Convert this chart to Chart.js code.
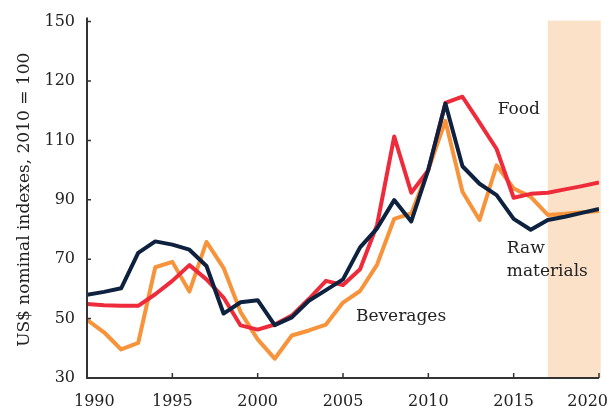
<!DOCTYPE html>
<html>
<head>
<meta charset="utf-8">
<script src="https://cdn.jsdelivr.net/npm/chart.js@4/dist/chart.umd.min.js"></script>
<style>
  html, body { margin: 0; padding: 0; background: #fff; }
  #wrap { width: 611px; height: 414px; }
</style>
</head>
<body>
<div id="wrap"><canvas id="indexes"></canvas></div>
<script>
const years = [1990, 1991, 1992, 1993, 1994, 1995, 1996, 1997, 1998, 1999,
               2000, 2001, 2002, 2003, 2004, 2005, 2006, 2007, 2008, 2009,
               2010, 2011, 2012, 2013, 2014, 2015, 2016, 2017, 2018, 2019, 2020];

const food = [54.9, 54.5, 54.3, 54.3, 58.2, 62.7, 68.0, 63.2, 57.1, 47.7,
              46.3, 48.0, 51.0, 56.6, 62.7, 61.3, 66.6, 81.6, 111.3, 92.4,
              100.0, 122.6, 124.7, 116.0, 107.1, 90.7, 92.0, 92.4, 93.5, 94.6, 95.8];

const rawMaterials = [58.0, 59.0, 60.2, 72.1, 76.0, 74.9, 73.2, 67.7, 51.7, 55.5,
                      56.2, 47.8, 50.4, 56.0, 59.6, 63.2, 74.0, 80.4, 89.9, 82.7,
                      100.2, 122.4, 101.3, 95.4, 91.6, 83.6, 79.9, 83.2, 84.3, 85.6, 86.9];

const beverages = [49.6, 45.4, 39.6, 41.8, 67.3, 69.1, 59.1, 75.8, 67.1, 52.2,
                   43.0, 36.5, 44.3, 46.0, 48.0, 55.4, 59.3, 68.2, 83.6, 85.4,
                   100.2, 116.6, 92.7, 83.2, 101.6, 93.8, 91.0, 84.9, 85.3, 85.8, 86.2];

const xTicks = [1990, 1995, 2000, 2005, 2010, 2015, 2020];
const yTicks = [30, 50, 70, 90, 110, 130, 150];
const yTickLabels = ['30', '50', '70', '90', '110', '120', '150'];

// projection period, shaded
const forecastSpan = [2017, 2020.1];

// series labels written next to the lines: [text, year, value, align]
const seriesNotes = [
  ['Food', 2015.3, 120.3, 'center'],
  ['Raw', 2014.6, 73.7, 'left'],
  ['materials', 2014.6, 66.0, 'left'],
  ['Beverages', 2008.4, 50.7, 'center']
];

const FONT = '"DejaVu Serif", serif';
const INK = '#222222';
const AXIS = '#333333';

const toPoints = vals => vals.map((v, i) => ({ x: years[i], y: v }));

const forecastShade = {
  id: 'forecastShade',
  beforeDatasetsDraw(chart) {
    const { ctx, chartArea, scales } = chart;
    const x0 = scales.x.getPixelForValue(forecastSpan[0]);
    const x1 = scales.x.getPixelForValue(forecastSpan[1]);
    ctx.save();
    ctx.fillStyle = '#fce1c9';
    ctx.fillRect(x0, chartArea.top - 1, x1 - x0, chartArea.bottom - chartArea.top + 1);
    ctx.restore();
  }
};

const axesAndNotes = {
  id: 'axesAndNotes',
  afterDraw(chart) {
    const { ctx, chartArea, scales } = chart;
    const { left, right, top, bottom } = chartArea;
    ctx.save();
    ctx.strokeStyle = AXIS;
    ctx.lineWidth = 2;
    ctx.beginPath();
    ctx.moveTo(left, top - 4);
    ctx.lineTo(left, bottom);
    ctx.lineTo(right, bottom);
    ctx.stroke();

    // inward tick marks
    ctx.lineWidth = 1.5;
    ctx.beginPath();
    yTicks.forEach(v => {
      const y = scales.y.getPixelForValue(v);
      ctx.moveTo(left, y);
      ctx.lineTo(left + 4, y);
    });
    xTicks.forEach(v => {
      const x = scales.x.getPixelForValue(v);
      ctx.moveTo(x, bottom);
      ctx.lineTo(x, bottom - 5);
    });
    ctx.stroke();

    // year labels, kept inside the canvas at both ends
    ctx.fillStyle = INK;
    ctx.font = '16px ' + FONT;
    ctx.textAlign = 'center';
    ctx.textBaseline = 'middle';
    xTicks.forEach(v => {
      const w = ctx.measureText(String(v)).width;
      let x = scales.x.getPixelForValue(v);
      x = Math.max(x, 74 + w / 2);
      x = Math.min(x, chart.width - 3 - w / 2);
      ctx.fillText(String(v), x, bottom + 24);
    });

    ctx.font = '17px ' + FONT;
    seriesNotes.forEach(([text, yr, val, align]) => {
      ctx.textAlign = align;
      ctx.fillText(text, scales.x.getPixelForValue(yr), scales.y.getPixelForValue(val));
    });
    ctx.restore();
  }
};

const lineStyle = {
  pointRadius: 0,
  borderWidth: 4,
  tension: 0,
  borderJoinStyle: 'round',
  fill: false
};

new Chart(document.getElementById('indexes'), {
  type: 'line',
  data: {
    datasets: [
      Object.assign({ label: 'Raw materials', data: toPoints(rawMaterials), borderColor: '#0e2240' }, lineStyle),
      Object.assign({ label: 'Food', data: toPoints(food), borderColor: '#ee2b3b' }, lineStyle),
      Object.assign({ label: 'Beverages', data: toPoints(beverages), borderColor: '#f7933a' }, lineStyle)
    ]
  },
  options: {
    responsive: true,
    maintainAspectRatio: false,
    animation: false,
    layout: { autoPadding: false, padding: { top: 18, right: 12, left: 0, bottom: 0 } },
    plugins: { legend: { display: false }, tooltip: { enabled: false } },
    scales: {
      x: {
        type: 'linear',
        min: 1990,
        max: 2020,
        grid: { display: false, drawTicks: false },
        border: { display: false },
        ticks: { display: false },
        afterFit(scale) { scale.height = 36; }
      },
      y: {
        min: 30,
        max: 150,
        grid: { display: false, drawTicks: false },
        border: { display: false },
        afterBuildTicks(scale) { scale.ticks = yTicks.map(v => ({ value: v })); },
        afterFit(scale) { scale.width = 87; },
        ticks: {
          color: INK,
          padding: 12,
          font: { family: FONT, size: 16 },
          callback(value) {
            const i = yTicks.indexOf(value);
            return i >= 0 ? yTickLabels[i] : '';
          }
        },
        title: {
          display: true,
          text: 'US$ nominal indexes, 2010 = 100',
          color: INK,
          font: { family: FONT, size: 17 },
          padding: { top: 14, bottom: 0 }
        }
      }
    }
  },
  plugins: [forecastShade, axesAndNotes]
});
</script>
</body>
</html>
